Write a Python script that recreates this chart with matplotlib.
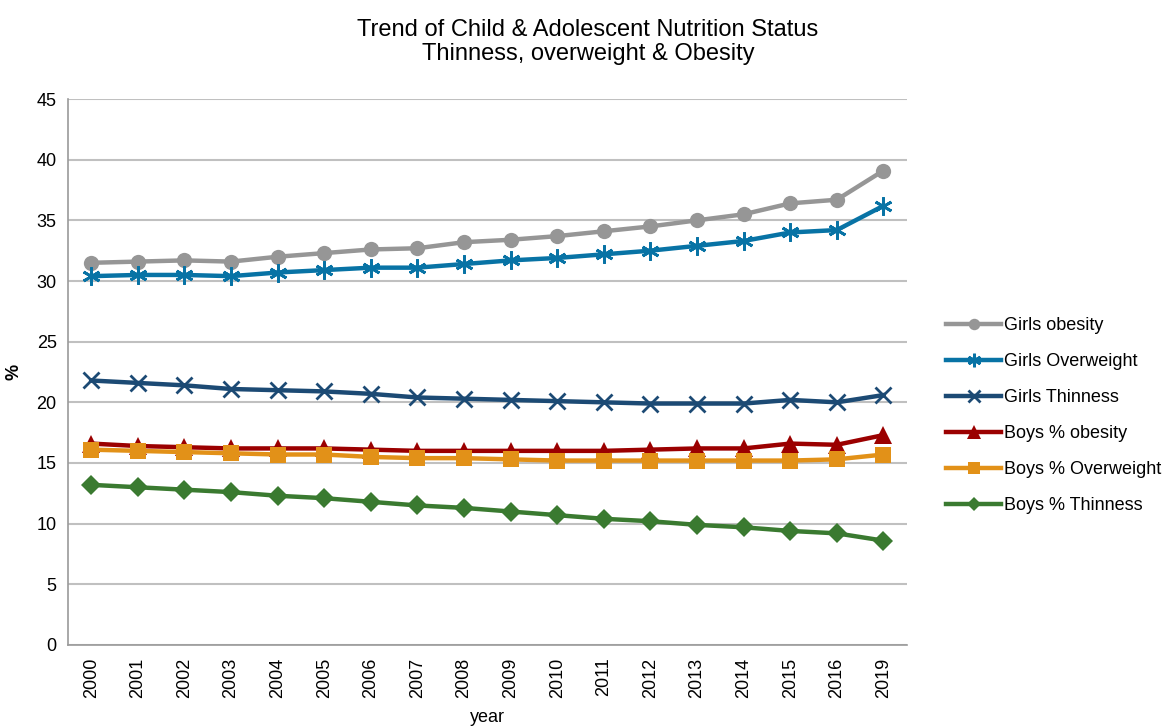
import matplotlib
matplotlib.use("Agg")
import matplotlib.pyplot as plt

plt.rcParams["font.family"] = ["Liberation Sans", "DejaVu Sans"]

years = ["2000", "2001", "2002", "2003", "2004", "2005", "2006", "2007", "2008",
         "2009", "2010", "2011", "2012", "2013", "2014", "2015", "2016", "2019"]

girls_obesity = [31.5, 31.6, 31.7, 31.6, 32.0, 32.3, 32.6, 32.7, 33.2,
                 33.4, 33.7, 34.1, 34.5, 35.0, 35.5, 36.4, 36.7, 39.1]
girls_overweight = [30.4, 30.5, 30.5, 30.4, 30.7, 30.9, 31.1, 31.1, 31.4,
                    31.7, 31.9, 32.2, 32.5, 32.9, 33.3, 34.0, 34.2, 36.2]
girls_thinness = [21.8, 21.6, 21.4, 21.1, 21.0, 20.9, 20.7, 20.4, 20.3,
                  20.2, 20.1, 20.0, 19.9, 19.9, 19.9, 20.2, 20.0, 20.6]
boys_obesity = [16.6, 16.4, 16.3, 16.2, 16.2, 16.2, 16.1, 16.0, 16.0,
                16.0, 16.0, 16.0, 16.1, 16.2, 16.2, 16.6, 16.5, 17.3]
boys_overweight = [16.1, 16.0, 15.9, 15.8, 15.7, 15.7, 15.5, 15.4, 15.4,
                   15.3, 15.2, 15.2, 15.2, 15.2, 15.2, 15.2, 15.3, 15.7]
boys_thinness = [13.2, 13.0, 12.8, 12.6, 12.3, 12.1, 11.8, 11.5, 11.3,
                 11.0, 10.7, 10.4, 10.2, 9.9, 9.7, 9.4, 9.2, 8.6]

# label, values, colour, marker, marker size
series = [
    ("Girls obesity", girls_obesity, "#969696", "o", 11),
    ("Girls Overweight", girls_overweight, "#0873A5", (6, 2, 0), 13),
    ("Girls Thinness", girls_thinness, "#1C4A74", "x", 11),
    ("Boys % obesity", boys_obesity, "#9B0000", "^", 13),
    ("Boys % Overweight", boys_overweight, "#E29118", "s", 11),
    ("Boys % Thinness", boys_thinness, "#3A7A30", "D", 10),
]

fig = plt.figure(figsize=(11.7, 7.26), dpi=100)
ax = fig.add_axes([0.058, 0.1116, 0.717, 0.752])

x = list(range(len(years)))
for label, vals, color, marker, ms in series:
    kw = dict(markeredgewidth=2) if marker in ("x", (6, 2, 0)) else dict(markeredgewidth=0)
    ax.plot(x, vals, color=color, linewidth=3.2, marker=marker, markersize=ms,
            label=label, **kw)

ax.set_xlim(-0.5, len(years) - 0.5)
ax.set_ylim(0, 45)
ax.set_yticks(range(0, 46, 5))
ax.set_xticks(x)
ax.set_xticklabels(years, rotation=90, fontsize=13)
ax.tick_params(axis="y", labelsize=13, length=0, pad=8)
ax.tick_params(axis="x", length=0, pad=9)
ax.yaxis.grid(True, color="#C0C0C0", linewidth=1.5)
ax.set_axisbelow(True)
for s in ("top", "right"):
    ax.spines[s].set_visible(False)
for s in ("left", "bottom"):
    ax.spines[s].set_color("#9A9A9A")
    ax.spines[s].set_linewidth(1.2)

ax.set_ylabel("%", fontsize=13, fontweight="bold", labelpad=10)
ax.set_xlabel("year", fontsize=13, labelpad=8)
ax.set_title("Trend of Child & Adolescent Nutrition Status\nThinness, overweight & Obesity",
             fontsize=17, pad=28, x=0.62, linespacing=1.15)

ax.legend(loc="center left", bbox_to_anchor=(1.028, 0.42), frameon=False, fontsize=13,
          handlelength=3.0, labelspacing=1.05, handletextpad=0.2, markerscale=0.75)

fig.savefig("out.png", dpi=100)
